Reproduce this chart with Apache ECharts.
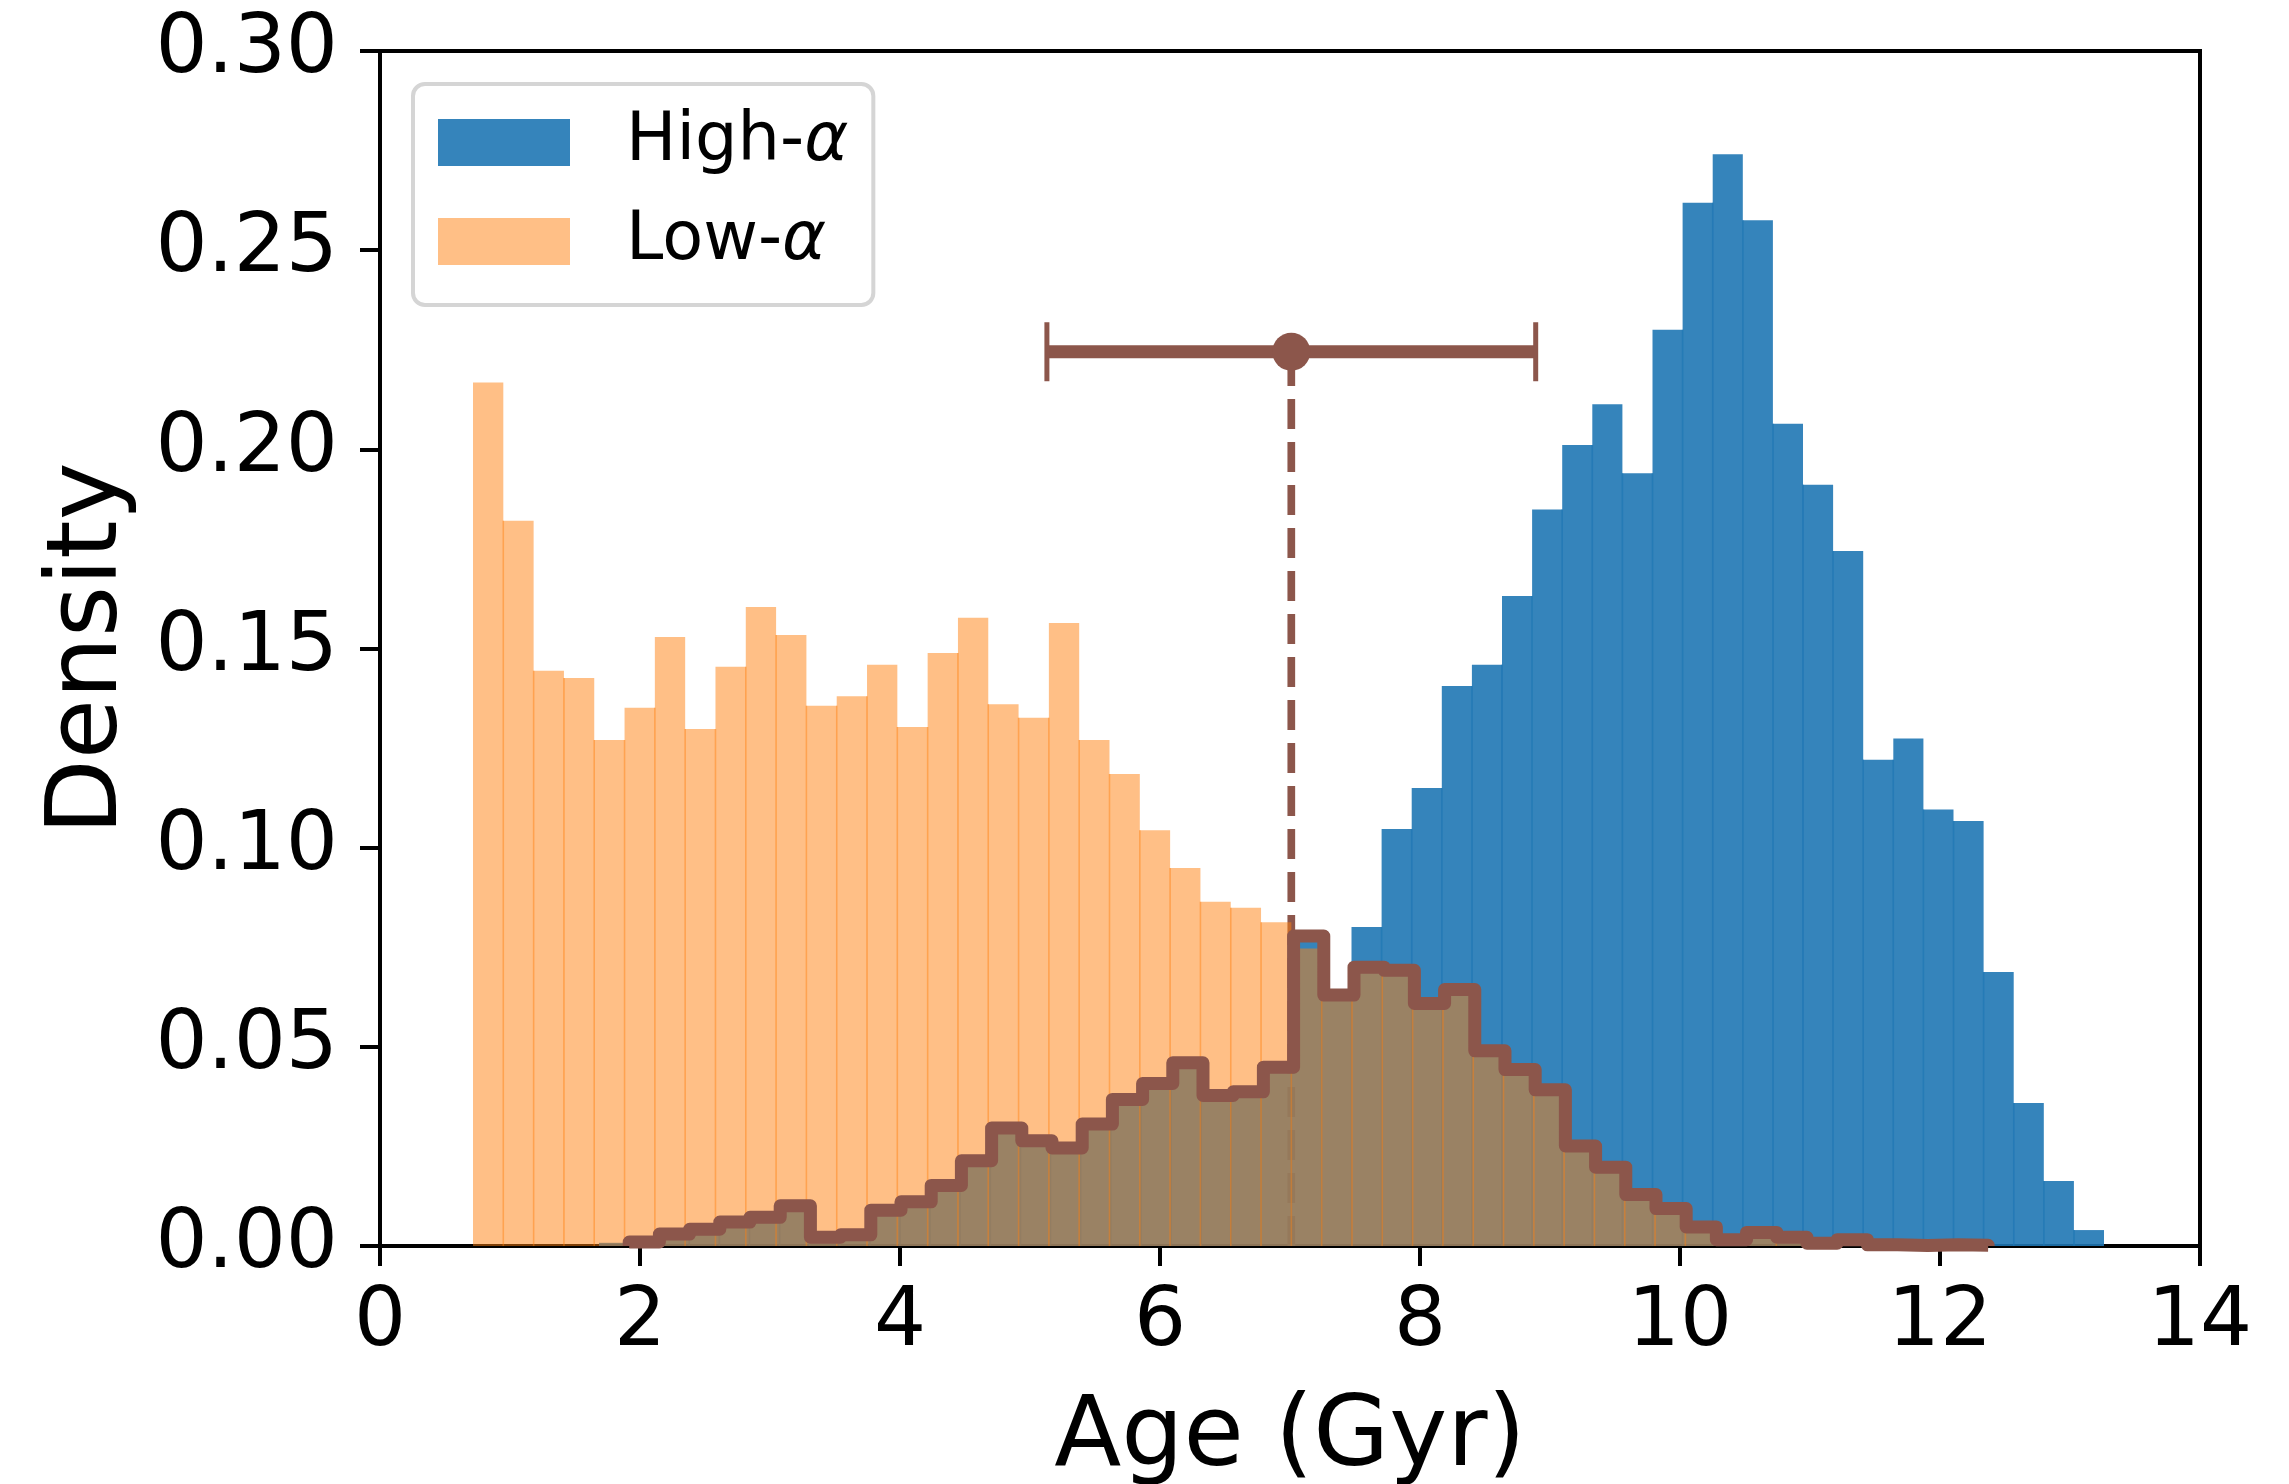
<!DOCTYPE html>
<html><head><meta charset="utf-8">
<script src="https://cdn.jsdelivr.net/npm/echarts@6/dist/echarts.min.js"></script>
<style>html,body{margin:0;padding:0;background:#fff}#c{width:2289px;height:1484px}</style>
</head><body><div id="c"></div>
<script>
// ---- bin definitions (age, Gyr) ----
const LOW_BIN_START = 0.7154, LOW_BIN_WIDTH = 0.23315;      // Low-alpha histogram bins (50)
const HIGH_BIN_START = 1.6846, HIGH_BIN_WIDTH = 0.23154;    // High-alpha histogram bins (50)
const OVERLAP_BIN_START = 1.917, OVERLAP_BIN_WIDTH = 0.2323; // overlap step histogram bins (45)

// ---- densities ----
const highAlpha = [
  0.0008, 0.0010, 0.0030, 0.0042, 0.0060, 0.0072, 0.0101, 0.0022, 0.0028, 0.0090,
  0.0111, 0.0152, 0.0214, 0.0296, 0.0264, 0.0246, 0.0306, 0.0368, 0.0408, 0.0460,
  0.0378, 0.0387, 0.0449, 0.0780, 0.0635, 0.0801, 0.1047, 0.1150, 0.1406, 0.1459,
  0.1632, 0.1849, 0.2011, 0.2113, 0.1940, 0.2300, 0.2619, 0.2741, 0.2575, 0.2064,
  0.1911, 0.1745, 0.1221, 0.1274, 0.1096, 0.1067, 0.0688, 0.0359, 0.0163, 0.0040
];
const lowAlpha = [
  0.2168, 0.1821, 0.1444, 0.1426, 0.1270, 0.1351, 0.1529, 0.1298, 0.1454, 0.1604,
  0.1534, 0.1356, 0.1380, 0.1459, 0.1303, 0.1489, 0.1577, 0.1360, 0.1326, 0.1564,
  0.1270, 0.1185, 0.1044, 0.0949, 0.0864, 0.0849, 0.0813, 0.0747, 0.0630, 0.0700,
  0.0692, 0.0609, 0.0644, 0.0490, 0.0443, 0.0392, 0.0251, 0.0198, 0.0129, 0.0094,
  0.0048, 0.0016, 0.0034, 0.0022, 0.0007, 0.0016, 0.0003, 0.0001, 0.0003, 0.0002
];
const overlap = [
  0.0010, 0.0030, 0.0042, 0.0060, 0.0072, 0.0101, 0.0022, 0.0028, 0.0090, 0.0111,
  0.0152, 0.0214, 0.0296, 0.0264, 0.0246, 0.0306, 0.0368, 0.0408, 0.0460, 0.0378,
  0.0387, 0.0449, 0.0778, 0.0630, 0.0700, 0.0692, 0.0609, 0.0644, 0.0490, 0.0443,
  0.0392, 0.0251, 0.0198, 0.0129, 0.0094, 0.0048, 0.0016, 0.0034, 0.0022, 0.0007,
  0.0016, 0.0003, 0.0001, 0.0003, 0.0002
];
const ageMean = 7.01, ageErr = 1.88, ageMarkerY = 0.2245;

const seriesNames = ['High-α', 'Low-α'];
const xTicks = [0, 2, 4, 6, 8, 10, 12, 14];
const yTickLabels = ['0.00', '0.05', '0.10', '0.15', '0.20', '0.25', '0.30'];

// ---- styles ----
const BLUE = 'rgba(31,119,180,0.9)';
const ORANGE = 'rgba(255,127,14,0.5)';
const BROWN = '#8c564b';
const FONT = 'DejaVu Sans';

function binData(start, width, heights) {
  return heights.map((h, i) => [start + i * width, start + (i + 1) * width, h,
    i > 0 ? Math.min(heights[i - 1], h) : 0]);
}
function stepPoints(start, width, heights) {
  const pts = [[start, 0]];
  heights.forEach((h, i) => {
    pts.push([start + i * width, h]);
    pts.push([start + (i + 1) * width, h]);
  });
  pts.push([start + heights.length * width, 0]);
  return pts;
}
function barRenderer(color) {
  return function (params, api) {
    const x0 = api.value(0), x1 = api.value(1), h = api.value(2), seam = api.value(3);
    if (!(h > 0)) return null;
    const pb = api.coord([x0, 0]);
    const pt = api.coord([x1, h]);
    const children = [{
      type: 'rect',
      shape: { x: pb[0], y: pt[1], width: pt[0] - pb[0], height: pb[1] - pt[1] },
      style: { fill: color }
    }];
    if (seam > 0) {
      const ps = api.coord([x0, seam]);
      children.push({ type: 'line', shape: { x1: pb[0], y1: pb[1], x2: pb[0], y2: ps[1] },
        style: { stroke: color, lineWidth: 1.5 } });
    }
    return { type: 'group', children };
  };
}

const chart = echarts.init(document.getElementById('c'), null, { renderer: 'canvas' });
chart.setOption({
  animation: false,
  backgroundColor: '#fff',
  grid: { left: 380, top: 51, width: 1820, height: 1195, show: true,
    borderColor: '#000', borderWidth: 4, backgroundColor: 'transparent',
    containLabel: false, outerBoundsMode: 'none' },
  xAxis: {
    type: 'value', min: 0, max: 14, interval: 2,
    axisLine: { show: true, onZero: false, lineStyle: { color: '#000', width: 4 } },
    axisTick: { show: true, inside: false, length: 20, lineStyle: { color: '#000', width: 4 } },
    axisLabel: { fontSize: 82, color: '#000', fontFamily: FONT, margin: 37,
      formatter: v => xTicks.includes(v) ? String(v) : '' },
    splitLine: { show: false },
    name: 'Age (Gyr)', nameLocation: 'middle', nameGap: 145,
    nameTextStyle: { fontSize: 98, color: '#000', fontFamily: FONT }
  },
  yAxis: {
    type: 'value', min: 0, max: 0.3, interval: 0.05,
    axisLine: { show: true, onZero: false, lineStyle: { color: '#000', width: 4 } },
    axisTick: { show: true, inside: false, length: 20, lineStyle: { color: '#000', width: 4 } },
    axisLabel: { fontSize: 82, color: '#000', fontFamily: FONT, margin: 42,
      formatter: v => yTickLabels[Math.round(v / 0.05)] },
    splitLine: { show: false },
    name: 'Density', nameLocation: 'middle', nameGap: 240, nameRotate: 90,
    nameTextStyle: { fontSize: 98, color: '#000', fontFamily: FONT }
  },
  legend: {
    data: seriesNames, orient: 'vertical', left: 413, top: 84,
    icon: 'rect', itemWidth: 132, itemHeight: 47, itemGap: 32,
    padding: [25, 25, 30, 25], borderColor: '#d5d5d5', borderWidth: 4, borderRadius: 12,
    backgroundColor: 'rgba(255,255,255,0.8)', selectedMode: false,
    formatter: n => '{g| }{n|' + n.replace('α', '') + '}{a|α}',
    textStyle: { rich: {
      g: { width: 51, fontSize: 67 },
      n: { fontSize: 67, fontFamily: FONT, color: '#000' },
      a: { fontSize: 67, fontFamily: FONT, fontStyle: 'italic', color: '#000' }
    } }
  },
  series: [
    { // dashed guide (beneath bars)
      type: 'custom', name: 'guide', z: 1, silent: true,
      data: [[ageMean, ageMarkerY]],
      renderItem: (params, api) => {
        const pb = api.coord([api.value(0), 0]);
        const pt = api.coord([api.value(0), api.value(1)]);
        return { type: 'line', shape: { x1: pb[0], y1: pb[1], x2: pt[0], y2: pt[1] },
          style: { stroke: BROWN, lineWidth: 7.7, lineDash: [30, 13], lineCap: 'butt' } };
      }
    },
    {
      type: 'custom', name: seriesNames[0], z: 2, itemStyle: { color: BLUE },
      data: binData(HIGH_BIN_START, HIGH_BIN_WIDTH, highAlpha),
      renderItem: barRenderer(BLUE)
    },
    {
      type: 'custom', name: seriesNames[1], z: 2, itemStyle: { color: ORANGE },
      data: binData(LOW_BIN_START, LOW_BIN_WIDTH, lowAlpha),
      renderItem: barRenderer(ORANGE)
    },
    {
      type: 'line', name: 'overlap', z: 3, clip: true, silent: true,
      data: stepPoints(OVERLAP_BIN_START, OVERLAP_BIN_WIDTH, overlap),
      showSymbol: false, symbol: 'none', smooth: false,
      lineStyle: { color: BROWN, width: 13, join: 'round', cap: 'butt' }
    },
    { // error bar
      type: 'custom', name: 'errbar', z: 4, silent: true,
      data: [[ageMean, ageMarkerY, ageErr]],
      renderItem: (params, api) => {
        const m = api.value(0), y = api.value(1), e = api.value(2);
        const pl = api.coord([m - e, y]), pr = api.coord([m + e, y]);
        const capH = 29.5;
        return { type: 'group', children: [
          { type: 'line', shape: { x1: pl[0], y1: pl[1], x2: pr[0], y2: pr[1] },
            style: { stroke: BROWN, lineWidth: 13 } },
          { type: 'line', shape: { x1: pl[0], y1: pl[1] - capH, x2: pl[0], y2: pl[1] + capH },
            style: { stroke: BROWN, lineWidth: 5 } },
          { type: 'line', shape: { x1: pr[0], y1: pr[1] - capH, x2: pr[0], y2: pr[1] + capH },
            style: { stroke: BROWN, lineWidth: 5 } }
        ] };
      }
    },
    {
      type: 'scatter', name: 'mean', z: 5, silent: true,
      data: [[ageMean, ageMarkerY]], symbol: 'circle', symbolSize: 38,
      itemStyle: { color: BROWN, opacity: 1 }
    }
  ]
});
</script></body></html>
